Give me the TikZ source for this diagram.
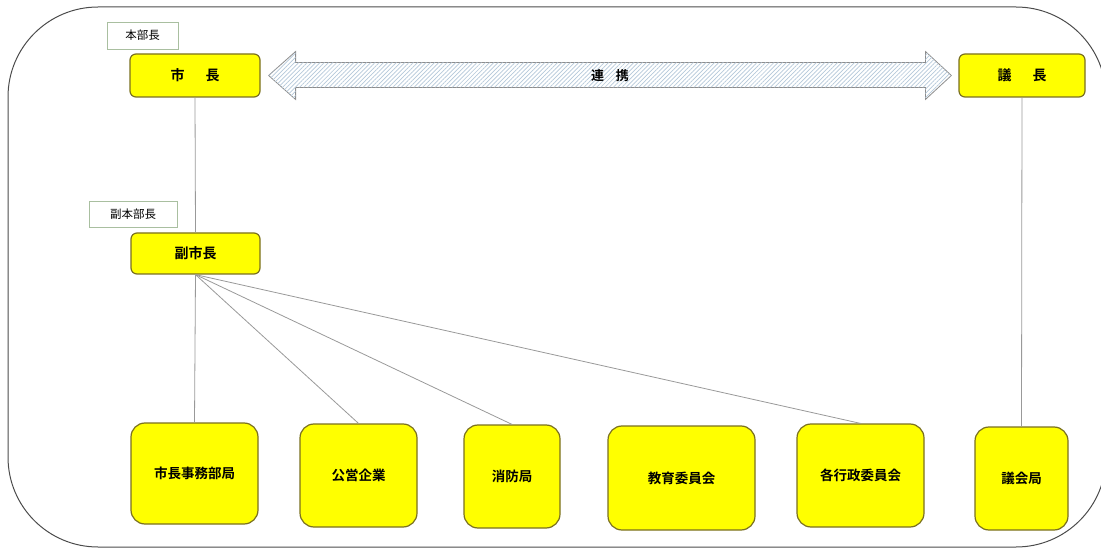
\documentclass[tikz,border=0pt]{standalone}
\usepackage{fontspec}
\newfontfamily\jp{Noto Sans CJK JP}[BoldFont={Noto Sans CJK JP Bold}]
\usetikzlibrary{patterns.meta,calc}
\definecolor{boxfill}{HTML}{FFFF00}
\definecolor{boxedge}{HTML}{7A7020}
\definecolor{tagedge}{HTML}{A9BFA0}
\definecolor{linkgray}{HTML}{999999}
\definecolor{hatch}{HTML}{B4C8DA}
\tikzset{
  head/.style={draw=boxedge, line width=1.2pt, fill=boxfill, rounded corners=6pt,
    inner sep=0pt, font=\jp\bfseries\fontsize{14}{16}\selectfont},
  unit/.style={draw=boxedge, line width=1.2pt, fill=boxfill, rounded corners=14pt,
    inner sep=0pt, font=\jp\bfseries\fontsize{13.5}{15}\selectfont},
  tag/.style={draw=tagedge, line width=0.8pt, fill=white, inner sep=0pt,
    font=\jp\fontsize{11.5}{13}\selectfont},
  link/.style={draw=linkgray, line width=0.8pt},
  coopband/.style={draw=black!45, line width=0.8pt, fill=white,
    postaction={pattern={Lines[angle=45,distance=3pt,line width=0.7pt]}, pattern color=hatch}},
}
\begin{document}
\begin{tikzpicture}[x=1pt,y=-1pt]
\useasboundingbox (0,0) rectangle (1101,548);
% outer frame
\draw[draw=black!70, line width=1pt, rounded corners=90pt] (8,7) rectangle (1106,547);

% top row
\node[head, minimum width=130pt, minimum height=43pt] (mayor) at (195,75.5) {市\hspace{1.5em}長};
\node[head, minimum width=126pt, minimum height=43pt] (chair) at (1022,75.5) {議\hspace{1.5em}長};
\node[tag, minimum width=71pt, minimum height=27pt] (tagA) at (142.5,35.5) {本部長};

% deputy
\node[tag, minimum width=88pt, minimum height=26pt] (tagB) at (133,214) {副本部長};
\node[head, minimum width=129pt, minimum height=41pt] (deputy) at (195.5,253.5) {副市長};

% two-headed cooperation arrow between mayor and chair
\coordinate (tipL) at ([xshift=8pt]mayor.east);
\coordinate (tipR) at ([xshift=-7pt]chair.west);
\path[coopband] (tipL) -- ++(27,-24) -- ++(0,11) -- ($(tipR)+(-26,-13)$) -- ++(0,-11)
  -- (tipR) -- ++(-26,24) -- ++(0,-12) -- ($(tipL)+(27,12)$) -- ++(0,12) -- cycle;
\node[font=\jp\bfseries\fontsize{13}{15}\selectfont] (cooptext) at ($(tipL)!0.5!(tipR)$) {連\hspace{0.9em}携};

% bottom row
\node[unit, minimum width=127pt, minimum height=101pt] (u1) at (194.5,473.5) {市長事務部局};
\node[unit, minimum width=117pt, minimum height=103pt] (u2) at (358.5,475.5) {公営企業};
\node[unit, minimum width=96pt, minimum height=103pt] (u3) at (512,476.5) {消防局};
\node[unit, minimum width=147pt, minimum height=104pt] (u4) at (681.5,478) {教育委員会};
\node[unit, minimum width=127pt, minimum height=103pt] (u5) at (860.5,475.5) {各行政委員会};
\node[unit, minimum width=93pt, minimum height=103pt] (u6) at (1021.5,478.5) {議会局};

% connectors
\draw[link] (mayor.south) -- (deputy.north);
\draw[link] (deputy.south) -- (u1.north);
\draw[link] (deputy.south) -- (u2.north);
\draw[link] (deputy.south) -- (u3.north);
\draw[link] (deputy.south) -- (u5.north);
\draw[link] (chair.south) -- (u6.north);
\end{tikzpicture}
\end{document}
